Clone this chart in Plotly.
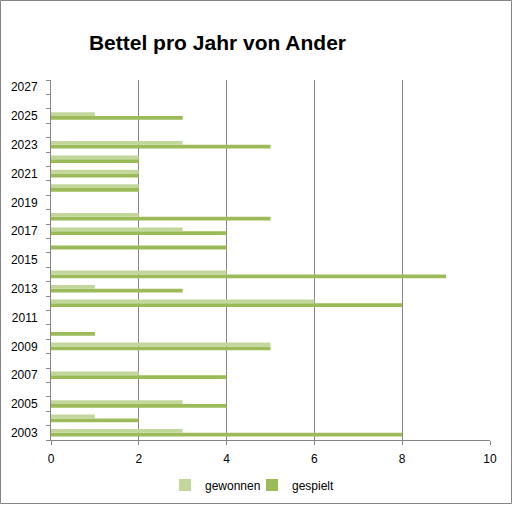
import plotly.graph_objects as go

# ---- data ----
years = list(range(2003, 2028))
gewonnen = [3, 1, 3, None, 2, None, 5, 0, None, 6, 1, 4, None, 0, 3, 2, None, 2, 2, 2, 3, None, 1, None, None]
gespielt = [8, 2, 4, None, 4, None, 5, 1, None, 8, 3, 9, None, 4, 4, 5, None, 2, 2, 2, 5, None, 3, None, None]
label_years = list(range(2003, 2028, 2))
x_ticks = [0, 2, 4, 6, 8, 10]
title_text = "Bettel pro Jahr von Ander"

# ---- layout constants ----
W, H = 513, 505
ML, MR, MT, MB = 51, 23, 80, 65
PW, PH = W - ML - MR, H - MT - MB
GRID = "#868686"
LIGHT = "#C3D69B"
DARK = "#9BBB59"
FONT = "Liberation Sans"

def px_to_paper_x(px):
    return (px - ML) / PW

def px_to_paper_y(py):
    return (H - MB - py) / PH

fig = go.Figure()
fig.add_trace(go.Bar(y=years, x=gespielt, name="gespielt", orientation="h", legend="legend2",
                     marker=dict(color=DARK, line=dict(width=0))))
fig.add_trace(go.Bar(y=years, x=gewonnen, name="gewonnen", orientation="h", legend="legend",
                     marker=dict(color=LIGHT, line=dict(width=0))))

legend_common = dict(orientation="h", xanchor="left", yanchor="middle",
                     y=px_to_paper_y(485), font=dict(family=FONT, size=12),
                     bgcolor="rgba(0,0,0,0)")

fig.update_layout(
    width=W, height=H,
    margin=dict(l=ML, r=MR, t=MT, b=MB, autoexpand=False),
    paper_bgcolor="white", plot_bgcolor="white",
    barmode="group", bargap=0.47, bargroupgap=0,
    font=dict(family=FONT, size=12, color="black"),
    title=dict(text="<b>" + title_text + "</b>", font=dict(family=FONT, size=21, color="black"),
               x=217.5 / W, xanchor="center", xref="container",
               y=1 - 43 / H, yanchor="middle", yref="container"),
    legend=dict(x=px_to_paper_x(165), **legend_common),
    legend2=dict(x=px_to_paper_x(252), **legend_common),
    showlegend=True,
)

fig.update_xaxes(range=[0, 10], tickvals=x_ticks, ticktext=[str(v) for v in x_ticks],
                 showgrid=True, gridcolor=GRID, gridwidth=1,
                 showline=True, linecolor=GRID, linewidth=1,
                 ticks="outside", ticklen=4, tickcolor=GRID, ticklabelstandoff=4,
                 zeroline=False, fixedrange=True)

fig.update_yaxes(range=[2002.5, 2027.5], tickvals=label_years, ticktext=[str(v) for v in label_years],
                 showgrid=False, showline=True, linecolor=GRID, linewidth=1,
                 ticks="outside", ticklen=10, tickcolor="rgba(0,0,0,0)",
                 minor=dict(tickvals=[y - 0.5 for y in years] + [years[-1] + 0.5],
                            ticks="outside", ticklen=4, tickcolor=GRID, showgrid=False),
                 zeroline=False, fixedrange=True)

# chart border
fig.add_shape(type="rect", xref="paper", yref="paper",
              x0=px_to_paper_x(0.5), x1=px_to_paper_x(511.5),
              y0=px_to_paper_y(503.5), y1=px_to_paper_y(0.5),
              line=dict(color=GRID, width=1), fillcolor="rgba(0,0,0,0)", layer="below")

fig.write_html("out.html", config={"displayModeBar": False},
               post_script="document.body.style.margin='0';")
